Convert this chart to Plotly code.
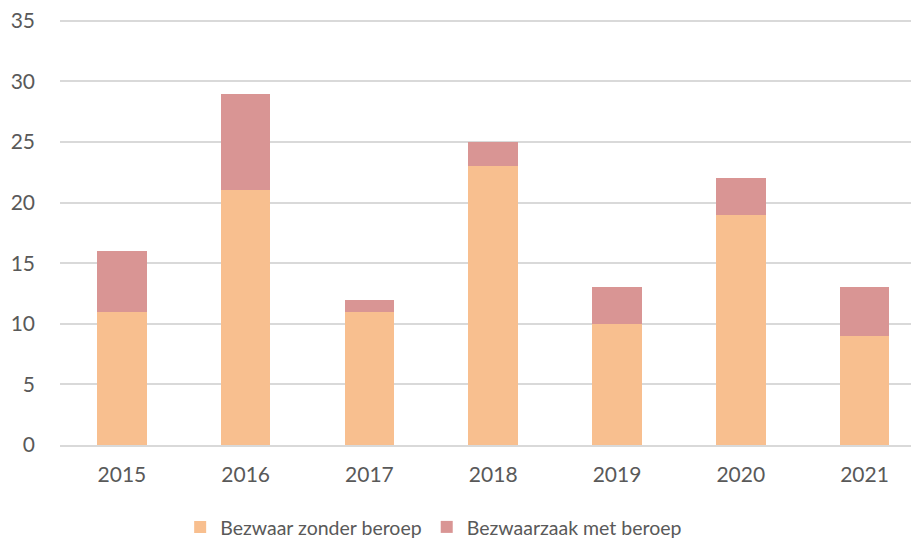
import plotly.graph_objects as go

years = ["2015", "2016", "2017", "2018", "2019", "2020", "2021"]
zonder_beroep = [11, 21, 11, 23, 10, 19, 9]
met_beroep = [5, 8, 1, 2, 3, 3, 4]
y_ticks = [0, 5, 10, 15, 20, 25, 30, 35]

font_family = "Lato, 'Open Sans', sans-serif"
text_color = "#595959"

fig = go.Figure()
fig.add_trace(go.Bar(x=years, y=zonder_beroep, name="Bezwaar zonder beroep",
                     marker=dict(color="#F8BF8F", line=dict(width=0))))
fig.add_trace(go.Bar(x=years, y=met_beroep, name="Bezwaarzaak met beroep",
                     marker=dict(color="#D99594", line=dict(width=0))))

# page body has an 8px default margin, so the figure is sized to fit the window
fig.update_layout(
    width=911, height=533,
    barmode="stack", bargap=0.6,
    plot_bgcolor="white", paper_bgcolor="white",
    margin=dict(l=52, r=0, t=11, b=96, autoexpand=False),
    font=dict(family=font_family, size=21, color=text_color),
    legend=dict(orientation="h", x=0.435, xanchor="center", y=-0.193, yanchor="middle",
                font=dict(size=19.5, color=text_color), traceorder="normal",
                itemsizing="constant"),
    xaxis=dict(type="category", range=[-0.5, 6.44], showgrid=False, automargin=False,
               showline=True, linecolor="#d9d9d9", linewidth=1.5,
               ticks="", ticklabelstandoff=10),
    yaxis=dict(range=[0, 35.15], tickvals=y_ticks, showgrid=True, gridcolor="#d9d9d9",
               gridwidth=1.5, zeroline=False, showline=False, ticks="", automargin=False,
               ticklabelstandoff=24, ticklabeloverflow="allow"),
)

fig.write_html("out.html")
